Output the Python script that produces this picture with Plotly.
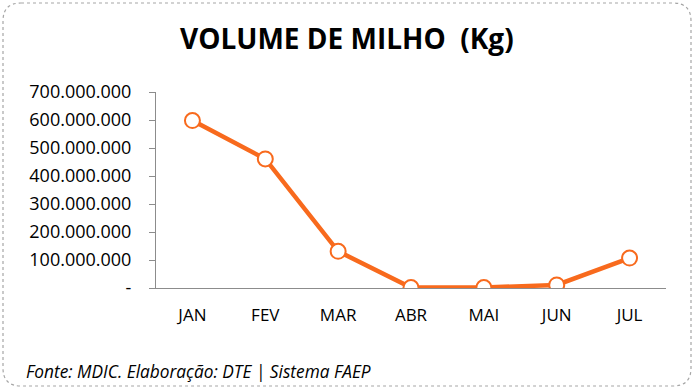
import plotly.graph_objects as go

months = ["JAN", "FEV", "MAR", "ABR", "MAI", "JUN", "JUL"]
volume_kg = [598_000_000, 461_000_000, 131_000_000, 1_500_000, 1_500_000, 11_000_000, 107_000_000]
tick_vals = [0, 100_000_000, 200_000_000, 300_000_000, 400_000_000, 500_000_000, 600_000_000, 700_000_000]
tick_text = ["-", "100.000.000", "200.000.000", "300.000.000", "400.000.000",
             "500.000.000", "600.000.000", "700.000.000"]

ORANGE = "#F86A1D"
W, H = 694, 389
L, R, T, B = 156, 28, 92, 101

fig = go.Figure()
fig.add_trace(go.Scatter(
    x=months, y=volume_kg, mode="lines+markers",
    line=dict(color=ORANGE, width=4.5),
    marker=dict(size=15, color="white", line=dict(color=ORANGE, width=2)),
    hoverinfo="x+y",
))

def px2paper_x(px):
    return (px - L) / (W - L - R)

def px2paper_y(py):
    return (H - B - py) / (H - T - B)

# rounded dashed border
x0, y0, x1, y1, r = 3, 3, 691, 386, 18
def P(x, y):
    return f"{px2paper_x(x):.5f},{px2paper_y(y):.5f}"
path = (f"M {P(x0 + r, y0)} L {P(x1 - r, y0)} Q {P(x1, y0)} {P(x1, y0 + r)} "
        f"L {P(x1, y1 - r)} Q {P(x1, y1)} {P(x1 - r, y1)} "
        f"L {P(x0 + r, y1)} Q {P(x0, y1)} {P(x0, y1 - r)} "
        f"L {P(x0, y0 + r)} Q {P(x0, y0)} {P(x0 + r, y0)} Z")
fig.add_shape(type="path", path=path, xref="paper", yref="paper",
              line=dict(color="#A6A6A6", width=1.2, dash="dot"), layer="below")

fig.add_annotation(text="<b>VOLUME DE MILHO  (Kg)</b>", xref="paper", yref="paper",
                   x=px2paper_x(347), y=px2paper_y(38), xanchor="center", yanchor="middle",
                   showarrow=False, font=dict(size=28, color="black", family="Open Sans"))
fig.add_annotation(text="<i>Fonte: MDIC. Elaboração: DTE | Sistema FAEP</i>", xref="paper", yref="paper",
                   x=px2paper_x(24), y=px2paper_y(371), xanchor="left", yanchor="middle",
                   showarrow=False, font=dict(size=17.3, color="black", family="Open Sans"))

fig.update_layout(
    width=W, height=H,
    margin=dict(l=L, r=R, t=T, b=B),
    paper_bgcolor="white", plot_bgcolor="white",
    showlegend=False,
    font=dict(family="Open Sans", color="black"),
    xaxis=dict(type="category", range=[-0.5, 6.5], showgrid=False, zeroline=False,
               showline=True, linecolor="#8C8C8C", linewidth=1, ticks="",
               tickfont=dict(size=17), ticklabelstandoff=12),
    yaxis=dict(range=[0, 700_000_000], tickvals=tick_vals, ticktext=tick_text,
               showgrid=False, zeroline=False, showline=True, linecolor="#8C8C8C", linewidth=1,
               ticks="outside", ticklen=6, tickcolor="#8C8C8C",
               tickfont=dict(size=18), ticklabelstandoff=14),
)

fig.write_html("out.html", config={"displayModeBar": False},
               post_script="document.body.style.margin='0';document.body.style.overflow='hidden';")
